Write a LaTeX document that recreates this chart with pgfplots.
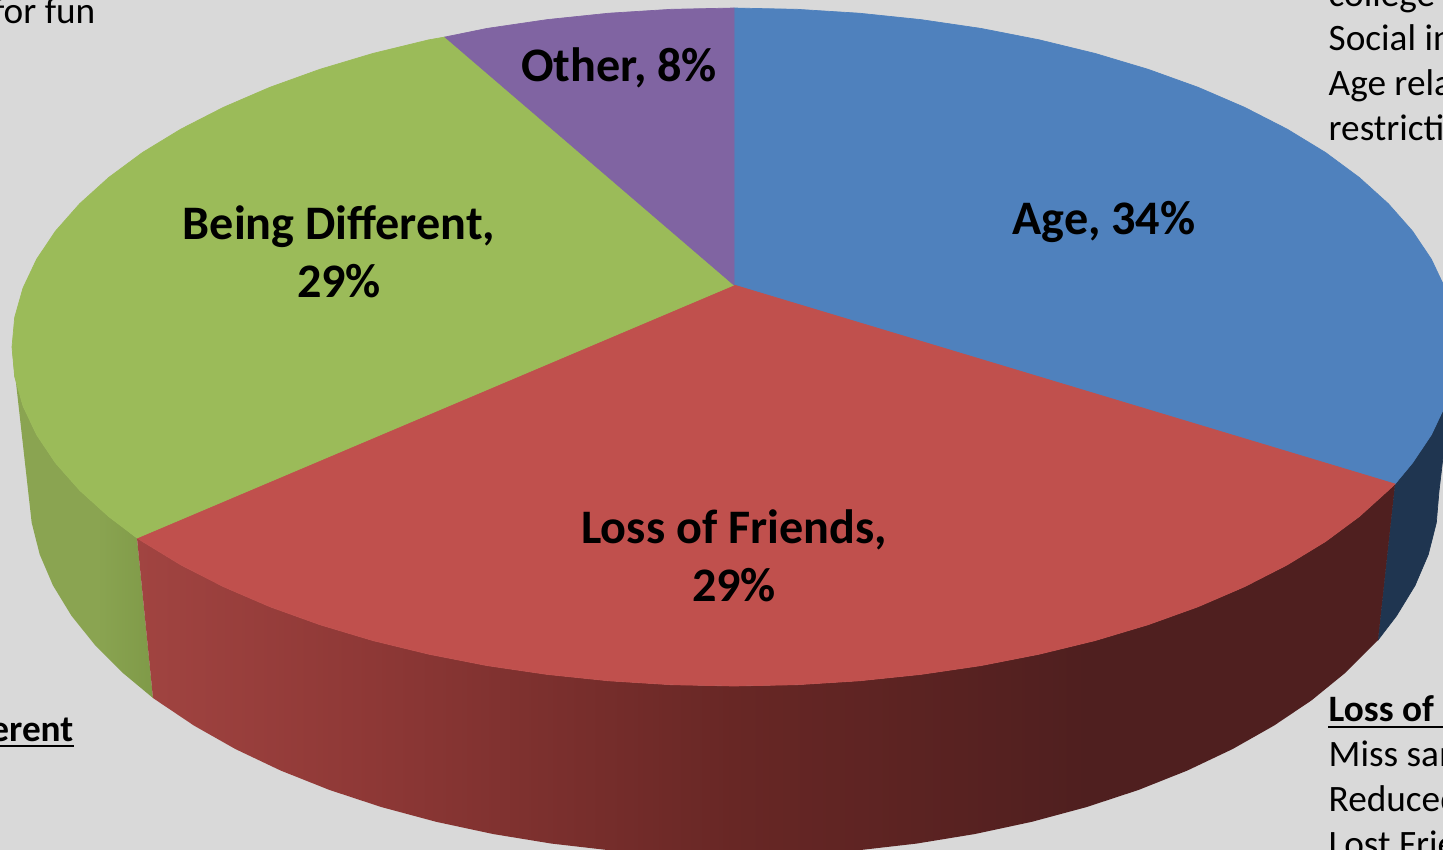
\documentclass[border=0pt]{standalone}
\usepackage{fontspec}
\setmainfont{Carlito}
\usepackage{pgfplots}
\pgfplotsset{compat=1.18}
\definecolor{bg}{HTML}{D9D9D9}
\definecolor{pblue}{HTML}{4F81BD}
\definecolor{pred}{HTML}{C0504D}
\definecolor{pgreen}{HTML}{9BBB59}
\definecolor{ppurple}{HTML}{8064A2}
\definecolor{sblue}{HTML}{1F3550}
\definecolor{ra}{HTML}{A14441}
\definecolor{rb}{HTML}{8E3836}
\definecolor{rc}{HTML}{682725}
\definecolor{rd}{HTML}{4F1F1F}
\definecolor{ga}{HTML}{8AA451}
\definecolor{gb}{HTML}{7F9A48}
\pgfdeclarehorizontalshading{redwall}{100bp}{color(0bp)=(ra);color(25bp)=(ra);color(34.3bp)=(rb);color(48.7bp)=(rc);color(62.8bp)=(rd);color(75bp)=(rd);color(100bp)=(rd)}
\pgfdeclarehorizontalshading{greenwall}{100bp}{color(0bp)=(ga);color(25bp)=(ga);color(55bp)=(ga);color(75bp)=(gb);color(100bp)=(gb)}
\pgfplotsset{
  face/.style={fill=#1,draw=#1,line width=0.2pt}
}
\newcommand{\biglab}{\fontsize{13.7}{16.6}\selectfont\bfseries}
\newcommand{\sidelab}{\fontsize{10.6}{12.7}\selectfont}
\begin{document}
\begin{tikzpicture}
\path[use as bounding box] (0,0) rectangle (14.43cm,8.5cm);
\clip (0,0) rectangle (14.43cm,8.5cm);
\fill[bg] (0,0) rectangle (14.43cm,8.5cm);
\begin{axis}[at={(0,0)},anchor=south west,scale only axis,width=14.43cm,height=8.5cm,
  xmin=0,xmax=1443,ymin=0,ymax=850,y dir=reverse,hide axis,clip=false]
% --- side wall: blue
\addplot[face=sblue] coordinates {(1395,484)(1412.5,462.9)(1431.4,434.7)(1445,405.9)(1453.3,376.6)(1456,347)(1439,491)(1436.3,522.8)(1428.3,554.4)(1415,585.5)(1396.5,615.8)(1378,640)(1395,484)};
% --- side wall: green
\addplot[draw=none,shade,shading=greenwall] coordinates {(137,538)(108.7,516.5)(79.7,490.3)(55.5,462.9)(36.6,434.7)(23,405.9)(14.7,376.6)(12,347)(31.7,522.8)(39.7,554.4)(53,585.5)(71.5,615.8)(95.1,645.2)(123.5,673.5)(153,698)(137,538)};
% --- side wall: red
\addplot[draw=none,shade,shading=redwall] coordinates {(1395,484)(1388.3,490.3)(1359.3,516.5)(1325.5,541.5)(1287.1,564.9)(1244.5,586.7)(1198.1,606.7)(1148.1,624.7)(1095,640.6)(1039.1,654.2)(980.9,665.6)(920.9,674.4)(859.3,680.8)(797,684.7)(734,686)(671,684.7)(608.7,680.8)(547.1,674.4)(487.1,665.6)(428.9,654.2)(373,640.6)(319.9,624.7)(269.9,606.7)(223.5,586.7)(180.9,564.9)(142.5,541.5)(137,538)(153,698)(156.5,700.4)(194,725.6)(235.5,749.1)(280.8,770.6)(329.6,790)(381.5,807.1)(436.1,821.8)(492.9,834)(551.5,843.6)(611.6,850.5)(672.5,854.6)(734,856)(795.5,854.6)(856.4,850.5)(916.5,843.6)(975.1,834)(1031.9,821.8)(1086.5,807.1)(1138.4,790)(1187.2,770.6)(1232.5,749.1)(1274,725.6)(1311.5,700.4)(1344.5,673.5)(1372.9,645.2)(1378,640)(1395,484)};
% --- top faces
\addplot[face=pblue] coordinates {(734,285)(734,8)(797,9.3)(859.3,13.2)(920.9,19.6)(980.9,28.4)(1039.1,39.8)(1095,53.4)(1148.1,69.3)(1198.1,87.3)(1244.5,107.3)(1287.1,129.1)(1325.5,152.5)(1359.3,177.5)(1388.3,203.7)(1412.5,231.1)(1431.4,259.3)(1445,288.1)(1453.3,317.4)(1456,347)(1453.3,376.6)(1445,405.9)(1431.4,434.7)(1412.5,462.9)(1395,484)(734,285)};
\addplot[face=pred] coordinates {(734,285)(1395,484)(1388.3,490.3)(1359.3,516.5)(1325.5,541.5)(1287.1,564.9)(1244.5,586.7)(1198.1,606.7)(1148.1,624.7)(1095,640.6)(1039.1,654.2)(980.9,665.6)(920.9,674.4)(859.3,680.8)(797,684.7)(734,686)(671,684.7)(608.7,680.8)(547.1,674.4)(487.1,665.6)(428.9,654.2)(373,640.6)(319.9,624.7)(269.9,606.7)(223.5,586.7)(180.9,564.9)(142.5,541.5)(137,538)(734,285)};
\addplot[face=pgreen] coordinates {(734,285)(137,538)(108.7,516.5)(79.7,490.3)(55.5,462.9)(36.6,434.7)(23,405.9)(14.7,376.6)(12,347)(14.7,317.4)(23,288.1)(36.6,259.3)(55.5,231.1)(79.7,203.7)(108.7,177.5)(142.5,152.5)(180.9,129.1)(223.5,107.3)(269.9,87.3)(319.9,69.3)(373,53.4)(428.9,39.8)(445,37)(734,285)};
\addplot[face=ppurple] coordinates {(734,285)(445,37)(487.1,28.4)(547.1,19.6)(608.7,13.2)(671,9.3)(734,8)(734,285)};
% --- data labels
\node[align=center,inner sep=0pt,font=\biglab] at (axis cs:1104,222) {Age, 34\%};
\node[align=center,inner sep=0pt,font=\biglab] at (axis cs:619,68) {Other, 8\%};
\node[align=center,inner sep=0pt,font=\biglab] at (axis cs:339,252) {Being Different,\\29\%};
\node[align=center,inner sep=0pt,font=\biglab] at (axis cs:734,556) {Loss of Friends,\\29\%};
% --- cropped side notes
\node[anchor=base east,inner sep=0pt,font=\sidelab] at (axis cs:96,23) {or for fun};
\node[anchor=base east,inner sep=0pt,font=\sidelab\bfseries] at (axis cs:74,742) {Being Different};
\draw[black,line width=0.7pt] (axis cs:-10,746) -- (axis cs:74,746);
\node[anchor=base west,inner sep=0pt,font=\sidelab] at (axis cs:1328,6) {college};
\node[anchor=base west,inner sep=0pt,font=\sidelab] at (axis cs:1328,50) {Social interaction};
\node[anchor=base west,inner sep=0pt,font=\sidelab] at (axis cs:1328,95) {Age related};
\node[anchor=base west,inner sep=0pt,font=\sidelab] at (axis cs:1328,140) {restrictions};
\node[anchor=base west,inner sep=0pt,font=\sidelab\bfseries] at (axis cs:1328,722) {Loss of Friends};
\draw[black,line width=0.7pt] (axis cs:1328,727) -- (axis cs:1460,727);
\node[anchor=base west,inner sep=0pt,font=\sidelab] at (axis cs:1328,767) {Miss same};
\node[anchor=base west,inner sep=0pt,font=\sidelab] at (axis cs:1328,812) {Reduced};
\node[anchor=base west,inner sep=0pt,font=\sidelab] at (axis cs:1328,857) {Lost Friends};
\end{axis}
\end{tikzpicture}
\end{document}
